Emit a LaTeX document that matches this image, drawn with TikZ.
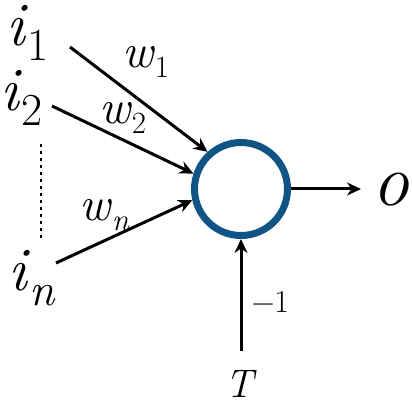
\documentclass[tikz,border=0pt]{standalone}
\usepackage{fontspec}
\usepackage{xcolor}
\usetikzlibrary{arrows.meta,positioning}

\definecolor{neuronblue}{RGB}{16,84,134}

\newcommand{\insub}[1]{\raisebox{-15bp}{\fontsize{46}{46}\selectfont #1}}
\newcommand{\wsub}[1]{\raisebox{-10bp}{\fontsize{31}{31}\selectfont #1}}

\begin{document}
\begin{tikzpicture}[
    x=1bp, y=1bp,
    neuron/.style={draw=neuronblue, circle, line width=7bp, minimum size=93bp, inner sep=0pt},
    inlbl/.style={font=\fontsize{62}{62}\selectfont, inner sep=0pt, anchor=base west},
    wlbl/.style={font=\fontsize{48}{48}\selectfont, inner sep=0pt, anchor=base west},
    syn/.style={-{Stealth[length=14bp,width=13bp]}, line width=3bp}
]
\useasboundingbox (0,0) rectangle (412,402);

\node[neuron] (neuron) at (241,213) {};

% inputs
\node[inlbl] (i1) at (6,357) {\textit{i}\insub{1}};
\node[inlbl] (i2) at (0,292) {\textit{i}\insub{2}};
\node[inlbl] (in) at (8,112) {\textit{i}\insub{\textit{n}}};
\draw[line width=2.5bp, dash pattern=on 2.5bp off 4.5bp] (41,164) -- (41,262);

\coordinate (s1) at (70,355);
\coordinate (s2) at (52,296);
\coordinate (sn) at (56,139);

% weights
\node[wlbl] (w1) at (122,335) {\textit{w}\wsub{1}};
\node[wlbl] (w2) at (99,279) {\textit{w}\wsub{2}};
\node[wlbl] (wn) at (79,182) {\textit{w}\wsub{\textit{n}}};

\draw[syn] (s1) -- (neuron.132);
\draw[syn] (s2) -- (neuron.162);
\draw[syn] (sn) -- (neuron.193);

% output and threshold
\node[inner sep=0pt, anchor=base west, font=\fontsize{74}{74}\selectfont] (o) at (372,197) {\textit{o}};
\node[inner sep=0pt, anchor=base, font=\fontsize{40}{40}\selectfont] (T) at (241,5) {\textit{T}};

\draw[syn, shorten >=11bp] (neuron.east) -- (neuron.east -| o.west);
\draw[syn, shorten <=19bp] (T) -- (neuron)
    node[pos=0.52, right=9bp, inner sep=0pt, font=\fontsize{32}{32}\selectfont] {−1};
\end{tikzpicture}
\end{document}
